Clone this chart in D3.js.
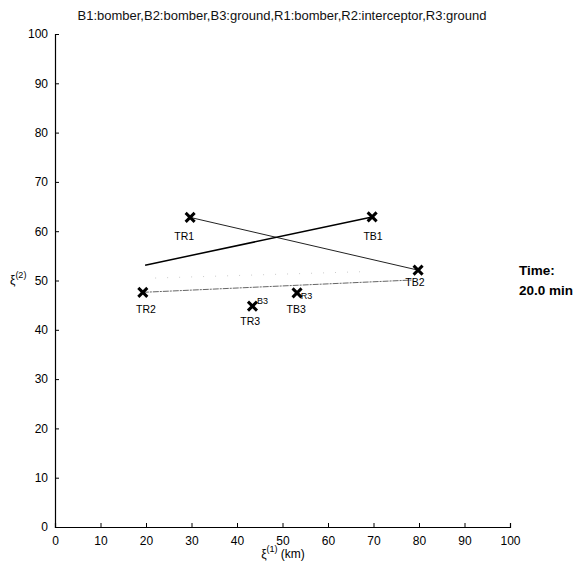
<!DOCTYPE html>
<html>
<head>
<meta charset="utf-8">
<script src="https://cdn.jsdelivr.net/npm/d3@7"></script>
<style>
  html, body { margin: 0; padding: 0; background: #fff; }
  svg { display: block; font-family: Arial, "Liberation Sans", Helvetica, sans-serif; }
</style>
</head>
<body>
<svg id="chart" width="579" height="578"></svg>
<script>
// ---------- data ----------
const titleText = "B1:bomber,B2:bomber,B3:ground,R1:bomber,R2:interceptor,R3:ground";
const xTicks = [0, 10, 20, 30, 40, 50, 60, 70, 80, 90, 100];
const yTicks = [0, 10, 20, 30, 40, 50, 60, 70, 80, 90, 100];

// vehicle positions (x markers)
const markerX = [29.7, 69.7, 79.8, 19.3, 43.4, 53.2];
const markerY = [62.8, 62.9, 52.1, 47.6, 44.8, 47.5];

// target labels
const targetNames = ["TR1", "TB1", "TB2", "TR2", "TR3", "TB3"];
const targetX = [28.4, 69.9, 79.1, 20.0, 42.9, 53.0];
const targetY = [58.2, 58.2, 48.9, 43.4, 41.0, 43.4];

// small tags near markers
const tagNames = ["B3", "R3"];
const tagX = [44.4, 54.0];
const tagY = [45.2, 46.2];

// tracks
const trackB1 = [[19.8, 53.1], [69.7, 62.9]];
const trackR1 = [[29.7, 62.8], [79.8, 52.1]];
const trackR2 = [[19.3, 47.6], [78.5, 50.1]];
const trackFaint = [[22.0, 50.5], [68.0, 51.8]];

const timeLines = ["Time:", "20.0 min"];

// ---------- drawing ----------
const svg = d3.select("#chart");
const x = d3.scaleLinear().domain([0, 100]).range([55, 510]);
const y = d3.scaleLinear().domain([0, 100]).range([527, 34]);

// axes (ticks inward)
const xAxis = d3.axisBottom(x).tickValues(xTicks).tickSize(-4).tickPadding(9).tickFormat(d3.format("d"));
const yAxis = d3.axisLeft(y).tickValues(yTicks).tickSize(-4).tickPadding(7).tickFormat(d3.format("d"));

const gx = svg.append("g").attr("transform", `translate(0,${y(0)})`).call(xAxis);
const gy = svg.append("g").attr("transform", `translate(${x(0)},0)`).call(yAxis);
[gx, gy].forEach(g => {
  g.select(".domain").attr("stroke", "#000").attr("stroke-width", 1.2);
  g.selectAll(".tick line").attr("stroke", "#000");
  g.selectAll(".tick text").attr("fill", "#000").attr("font-size", 12)
    .attr("font-family", "Arial, 'Liberation Sans', sans-serif");
});

// title
svg.append("text").attr("x", 282).attr("y", 20).attr("text-anchor", "middle")
  .attr("font-size", 13).attr("fill", "#111").text(titleText);

// axis labels
const xl = svg.append("text").attr("x", 283).attr("y", 558).attr("text-anchor", "middle")
  .attr("font-size", 12).attr("fill", "#000");
xl.append("tspan").text("ξ");
xl.append("tspan").attr("font-size", 9).attr("dy", -6).text("(1)");
xl.append("tspan").attr("dy", 6).text(" (km)");

const yl = svg.append("text").attr("x", 10).attr("y", 284).attr("font-size", 12).attr("fill", "#000");
yl.append("tspan").text("ξ");
yl.append("tspan").attr("font-size", 9).attr("dy", -6).text("(2)");

// tracks
const line = d3.line().x(d => x(d[0])).y(d => y(d[1]));
svg.append("path").datum(trackFaint).attr("d", line).attr("fill", "none")
  .attr("stroke", "#ccc").attr("stroke-width", 1).attr("stroke-dasharray", "1,11");
svg.append("path").datum(trackR2).attr("d", line).attr("fill", "none")
  .attr("stroke", "#666").attr("stroke-width", 1).attr("stroke-dasharray", "6,1,2,1");
svg.append("path").datum(trackR1).attr("d", line).attr("fill", "none")
  .attr("stroke", "#222").attr("stroke-width", 1);
svg.append("path").datum(trackB1).attr("d", line).attr("fill", "none")
  .attr("stroke", "#000").attr("stroke-width", 1.5);

// markers (bold x)
const markers = markerX.map((v, i) => ({ x: v, y: markerY[i] }));
const s = 4.5;
svg.append("g").selectAll("path").data(markers).join("path")
  .attr("d", d => {
    const cx = x(d.x), cy = y(d.y);
    return `M${cx - s},${cy - s}L${cx + s},${cy + s}M${cx + s},${cy - s}L${cx - s},${cy + s}`;
  })
  .attr("stroke", "#000").attr("stroke-width", 3).attr("fill", "none");

// target labels
svg.append("g").selectAll("text").data(targetNames).join("text")
  .attr("x", (d, i) => x(targetX[i])).attr("y", (d, i) => y(targetY[i]))
  .attr("text-anchor", "middle").attr("font-size", 10.5).attr("fill", "#000").text(d => d);

// tags
svg.append("g").selectAll("text").data(tagNames).join("text")
  .attr("x", (d, i) => x(tagX[i])).attr("y", (d, i) => y(tagY[i]))
  .attr("font-size", 9).attr("fill", "#000").text(d => d);

// time
svg.append("g").selectAll("text").data(timeLines).join("text")
  .attr("x", 519).attr("y", (d, i) => 275 + i * 20)
  .attr("font-size", 13.5).attr("font-weight", "bold").attr("fill", "#000").text(d => d);
</script>
</body>
</html>
